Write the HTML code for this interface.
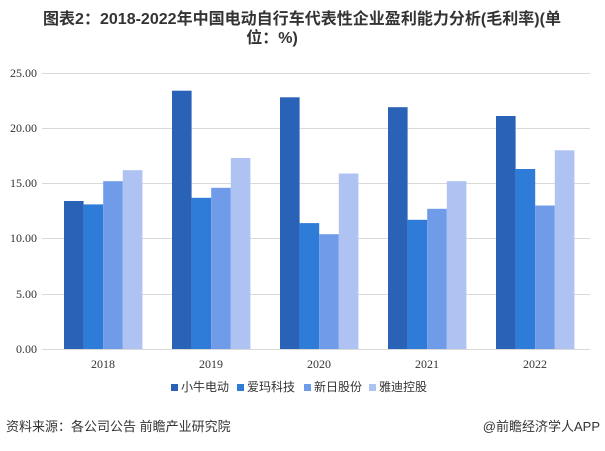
<!DOCTYPE html>
<html><head><meta charset="utf-8"><style>
body{margin:0;background:#fff;width:605px;height:446px;overflow:hidden;font-family:"Liberation Sans","Noto Sans CJK SC",sans-serif}
</style></head><body>
<svg width="605" height="446" xmlns="http://www.w3.org/2000/svg">
<text x="302" y="24" text-anchor="middle" font-size="16" font-weight="bold" fill="#333" font-family="Liberation Sans, Noto Sans CJK SC, sans-serif" textLength="518" lengthAdjust="spacingAndGlyphs">图表2：2018-2022年中国电动自行车代表性企业盈利能力分析(毛利率)(单</text>
<text x="272" y="43" text-anchor="middle" font-size="16" font-weight="bold" fill="#333" font-family="Liberation Sans, Noto Sans CJK SC, sans-serif">位：%)</text>
<g stroke="#d9d9d9" stroke-width="1">
<line x1="42" x2="590" y1="73.5" y2="73.5"/><line x1="42" x2="590" y1="128.5" y2="128.5"/><line x1="42" x2="590" y1="183.5" y2="183.5"/><line x1="42" x2="590" y1="238.5" y2="238.5"/><line x1="42" x2="590" y1="294.5" y2="294.5"/><line x1="42" x2="590" y1="349.5" y2="349.5"/>
</g>
<g font-family="Liberation Serif, serif" font-size="12" fill="#333" text-anchor="end">
<text x="37" y="77">25.00</text><text x="37" y="132">20.00</text><text x="37" y="187">15.00</text><text x="37" y="242">10.00</text><text x="37" y="298">5.00</text><text x="37" y="353">0.00</text>
</g>
<g font-family="Liberation Serif, serif" font-size="12" fill="#333" text-anchor="middle">
<text x="103" y="368">2018</text><text x="211" y="368">2019</text><text x="319" y="368">2020</text><text x="427" y="368">2021</text><text x="535" y="368">2022</text>
</g>
<g font-size="12" fill="#333" font-family="Liberation Sans, Noto Sans CJK SC, sans-serif">
<rect x="171" y="384" width="7" height="7" fill="#2a62b8"/><text x="181" y="391">小牛电动</text>
<rect x="237" y="384" width="7" height="7" fill="#2f7bd8"/><text x="247" y="391">爱玛科技</text>
<rect x="304" y="384" width="7" height="7" fill="#6f9be9"/><text x="314" y="391">新日股份</text>
<rect x="369" y="384" width="7" height="7" fill="#afc3f2"/><text x="379" y="391">雅迪控股</text>
</g>
<text x="6" y="431" font-size="13" fill="#333" font-family="Liberation Sans, Noto Sans CJK SC, sans-serif">资料来源：各公司公告 前瞻产业研究院</text>
<text x="600" y="431" text-anchor="end" font-size="13" fill="#333" font-family="Liberation Sans, Noto Sans CJK SC, sans-serif">@前瞻经济学人APP</text>
<g>
<rect x="64" y="201" width="19.6" height="148" fill="#2a62b8"/><rect x="83.6" y="204.4" width="19.6" height="144.6" fill="#2f7bd8"/><rect x="103.2" y="181.2" width="19.6" height="167.8" fill="#6f9be9"/><rect x="122.8" y="170.2" width="19.6" height="178.8" fill="#afc3f2"/>
<rect x="172" y="90.7" width="19.6" height="258.3" fill="#2a62b8"/><rect x="191.6" y="197.8" width="19.6" height="151.2" fill="#2f7bd8"/><rect x="211.2" y="187.8" width="19.6" height="161.2" fill="#6f9be9"/><rect x="230.8" y="158" width="19.6" height="191" fill="#afc3f2"/>
<rect x="280" y="97.3" width="19.6" height="251.7" fill="#2a62b8"/><rect x="299.6" y="223.1" width="19.6" height="125.9" fill="#2f7bd8"/><rect x="319.2" y="234.2" width="19.6" height="114.8" fill="#6f9be9"/><rect x="338.8" y="173.5" width="19.6" height="175.5" fill="#afc3f2"/>
<rect x="388" y="107.2" width="19.6" height="241.8" fill="#2a62b8"/><rect x="407.6" y="219.8" width="19.6" height="129.2" fill="#2f7bd8"/><rect x="427.2" y="208.8" width="19.6" height="140.2" fill="#6f9be9"/><rect x="446.8" y="181.2" width="19.6" height="167.8" fill="#afc3f2"/>
<rect x="496" y="116" width="19.6" height="233" fill="#2a62b8"/><rect x="515.6" y="169" width="19.6" height="180" fill="#2f7bd8"/><rect x="535.2" y="205.5" width="19.6" height="143.5" fill="#6f9be9"/><rect x="554.8" y="150.3" width="19.6" height="198.7" fill="#afc3f2"/>
</g>
</svg>
</body></html>
